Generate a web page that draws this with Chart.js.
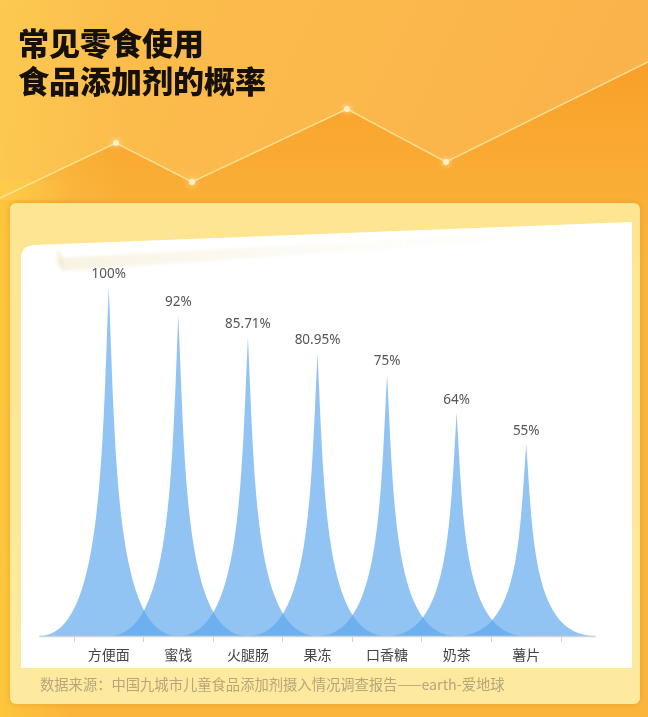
<!DOCTYPE html>
<html>
<head>
<meta charset="utf-8">
<script src="https://cdn.jsdelivr.net/npm/chart.js@4"></script>
<style>
  html, body { margin: 0; padding: 0; background: #fbb64a; }
  #wrap { position: relative; width: 648px; height: 717px; overflow: hidden; }
  #c { position: absolute; left: 0; top: 0; }
  #title { position: absolute; left: 18px; top: 23px; font-family: "Noto Sans CJK SC", sans-serif; font-weight: 900; font-size: 31px; line-height: 38px; color: #151008; }
  #source { position: absolute; left: 40px; top: 674px; font-family: "Noto Sans CJK SC", sans-serif; font-size: 14.3px; line-height: 20px; color: #b7a57c; white-space: nowrap; }
</style>
</head>
<body>
<div id="wrap">
  <canvas id="c" width="648" height="717"></canvas>
  <div id="title">常见零食使用<br>食品添加剂的概率</div>
  <div id="source">数据来源：中国九城市儿童食品添加剂摄入情况调查报告——earth-爱地球</div>
</div>
<script>
const categories = ['方便面', '蜜饯', '火腿肠', '果冻', '口香糖', '奶茶', '薯片'];
const values = [100, 92, 85.71, 80.95, 75, 64, 55];
const valueLabels = ['100%', '92%', '85.71%', '80.95%', '75%', '64%', '55%'];

const W = 648, H = 717;

const backgroundPlugin = {
  id: 'bg',
  beforeDraw(chart) {
    const ctx = chart.ctx;
    ctx.save();
    let g = ctx.createLinearGradient(0, 0, W, 300);
    g.addColorStop(0, '#fcc04c');
    g.addColorStop(0.5, '#fbb84b');
    g.addColorStop(1, '#fab04a');
    ctx.fillStyle = g;
    ctx.fillRect(0, 0, W, H);
    const pts = [[0, 198], [116, 143], [192, 182], [347, 109], [446, 162], [648, 62]];
    ctx.beginPath();
    ctx.moveTo(pts[0][0], pts[0][1]);
    pts.slice(1).forEach(p => ctx.lineTo(p[0], p[1]));
    ctx.lineTo(W, H); ctx.lineTo(0, H); ctx.closePath();
    g = ctx.createLinearGradient(0, 70, 0, 260);
    g.addColorStop(0, '#f8a12a');
    g.addColorStop(1, '#fbb53c');
    ctx.fillStyle = g;
    ctx.fill();
    g = ctx.createLinearGradient(0, 0, 70, 0);
    g.addColorStop(0, 'rgba(253,200,60,0.9)');
    g.addColorStop(1, 'rgba(253,200,60,0)');
    ctx.fillStyle = g;
    ctx.fillRect(0, 180, 70, H - 180);
    g = ctx.createLinearGradient(0, 0, 120, 0);
    g.addColorStop(0, 'rgba(253,210,85,0.5)');
    g.addColorStop(1, 'rgba(253,210,85,0)');
    ctx.fillStyle = g;
    ctx.fillRect(0, 0, 120, 200);
    ctx.beginPath();
    ctx.moveTo(pts[0][0], pts[0][1]);
    pts.slice(1).forEach(p => ctx.lineTo(p[0], p[1]));
    ctx.strokeStyle = 'rgba(255,232,160,0.85)';
    ctx.lineWidth = 1.5;
    ctx.stroke();
    [[116, 143], [192, 182], [347, 109], [446, 162]].forEach(p => {
      ctx.beginPath();
      ctx.arc(p[0], p[1], 3, 0, Math.PI * 2);
      ctx.fillStyle = '#fff0c0';
      ctx.shadowColor = 'rgba(255,250,220,1)';
      ctx.shadowBlur = 6;
      ctx.fill();
    });
    ctx.shadowBlur = 0;
    ctx.beginPath();
    ctx.roundRect(10, 203, 630, 501, 6);
    g = ctx.createLinearGradient(0, 203, 0, 704);
    g.addColorStop(0, '#fde592');
    g.addColorStop(1, '#fdea9f');
    ctx.fillStyle = g;
    ctx.shadowColor = 'rgba(200,120,20,0.35)';
    ctx.shadowBlur = 6;
    ctx.fill();
    ctx.shadowBlur = 0;
    // white sheet
    ctx.beginPath();
    ctx.moveTo(21, 668);
    ctx.lineTo(21, 258);
    ctx.quadraticCurveTo(21, 246, 34, 245);
    ctx.lineTo(632, 222);
    ctx.lineTo(632, 668);
    ctx.closePath();
    ctx.fillStyle = '#ffffff';
    ctx.fill();
    // soft curl shadow
    ctx.beginPath();
    ctx.moveTo(58, 258);
    ctx.lineTo(632, 227);
    ctx.lineTo(632, 232);
    ctx.lineTo(62, 271);
    ctx.closePath();
    g = ctx.createLinearGradient(58, 0, 632, 0);
    g.addColorStop(0, 'rgba(240,226,190,0.45)');
    g.addColorStop(0.5, 'rgba(246,238,215,0.2)');
    g.addColorStop(1, 'rgba(250,245,230,0.05)');
    ctx.fillStyle = g;
    ctx.filter = 'blur(1.5px)';
    ctx.fill();
    ctx.beginPath();
    ctx.moveTo(57, 250);
    ctx.lineTo(57, 263);
    ctx.lineTo(63, 271);
    ctx.lineTo(63, 256);
    ctx.closePath();
    ctx.fillStyle = 'rgba(238,226,195,0.45)';
    ctx.fill();
    ctx.filter = 'none';
    ctx.restore();
  }
};

const spikePlugin = {
  id: 'spikes',
  afterDatasetsDraw(chart) {
    const ctx = chart.ctx;
    const xs = chart.scales.x;
    const ys = chart.scales.y;
    const meta = chart.getDatasetMeta(0);
    const hw = xs.getPixelForValue(1) - xs.getPixelForValue(0);
    const base = ys.getPixelForValue(0);
    ctx.save();
    meta.data.forEach((el) => {
      const cx = el.x, top = el.y;
      const h = base - top;
      ctx.beginPath();
      ctx.moveTo(cx - hw, base);
      ctx.lineTo(cx + hw, base);
      ctx.bezierCurveTo(cx + 0.1 * hw, base, cx + 0.1 * hw, base - 0.5 * h, cx, top);
      ctx.bezierCurveTo(cx - 0.1 * hw, base - 0.5 * h, cx - 0.1 * hw, base, cx - hw, base);
      ctx.closePath();
      ctx.fillStyle = 'rgba(90,166,237,0.66)';
      ctx.fill();
    });
    const first = meta.data[0].x - hw, last = meta.data[meta.data.length - 1].x + hw;
    ctx.beginPath();
    ctx.moveTo(first, base + 0.5);
    ctx.lineTo(last, base + 0.5);
    ctx.strokeStyle = '#cfd3d8';
    ctx.lineWidth = 1.5;
    ctx.stroke();
    ctx.font = '13.5px "Noto Sans", "Noto Sans CJK SC", sans-serif';
    ctx.fillStyle = '#555555';
    ctx.textAlign = 'center';
    ctx.textBaseline = 'alphabetic';
    meta.data.forEach((el, i) => {
      ctx.fillText(valueLabels[i], el.x, el.y - 9);
    });
    ctx.restore();
  }
};

new Chart(document.getElementById('c'), {
  type: 'bar',
  data: {
    labels: categories,
    datasets: [{ data: values, backgroundColor: 'rgba(0,0,0,0)', borderWidth: 0 }]
  },
  options: {
    responsive: false,
    animation: false,
    devicePixelRatio: 1,
    layout: { padding: { left: 74, right: 87, top: 287, bottom: 36 } },
    plugins: { legend: { display: false }, tooltip: { enabled: false } },
    scales: {
      x: {
        offset: true,
        border: { display: false },
        grid: { display: true, drawOnChartArea: false, drawTicks: true, tickLength: 6, color: '#cfd3d8', offset: true },
        ticks: { color: '#444444', padding: 4, font: { family: '"Noto Sans CJK SC", sans-serif', size: 14 } },
        afterFit(s) { s.height = 45; }
      },
      y: { display: false, min: 0, max: 100 }
    }
  },
  plugins: [backgroundPlugin, spikePlugin]
});
</script>
</body>
</html>
